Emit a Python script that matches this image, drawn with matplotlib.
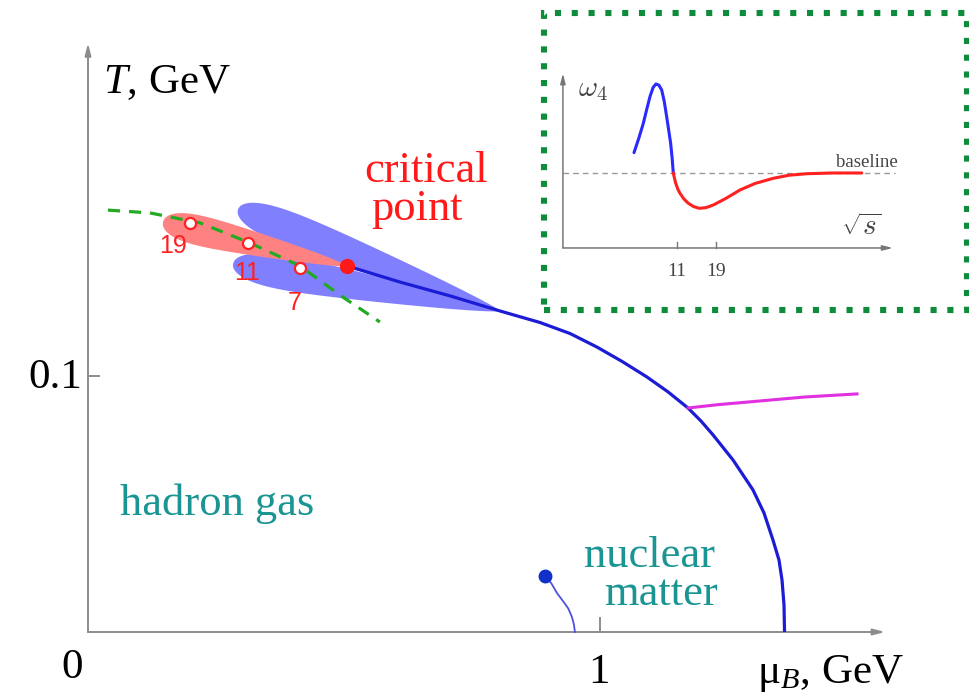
import numpy as np
import matplotlib.pyplot as plt
from matplotlib.patches import Polygon, Rectangle

plt.rcParams['font.family'] = ['Liberation Serif', 'DejaVu Serif']
plt.rcParams['mathtext.fontset'] = 'custom'
plt.rcParams['mathtext.rm'] = 'Liberation Serif'
plt.rcParams['mathtext.it'] = 'Liberation Serif:italic'

# --- phase diagram (mu_B in GeV, T in GeV) ---
crit_point = (0.506, 0.143)
transition_mu = [0.5059, 0.6094, 0.7070, 0.8047, 0.8828, 0.9414, 0.9941, 1.0430, 1.0918,
                 1.1328, 1.1719, 1.1973, 1.2207, 1.2598, 1.2988, 1.3203, 1.3379, 1.3496,
                 1.3555, 1.3594, 1.3604]
transition_T = [0.1430, 0.1367, 0.1313, 0.1254, 0.1209, 0.1166, 0.1113, 0.1057, 0.0996,
                0.0938, 0.0875, 0.0824, 0.0770, 0.0672, 0.0555, 0.0465, 0.0359, 0.0281,
                0.0203, 0.0105, 0.0]

nuclear_mu = [0.893, 0.905, 0.916, 0.928, 0.938, 0.945, 0.949, 0.951]
nuclear_T = [0.0219, 0.0190, 0.0152, 0.0120, 0.0092, 0.0060, 0.0030, 0.0]

magenta_mu = [1.172, 1.230, 1.287, 1.400, 1.502]
magenta_T = [0.0875, 0.0888, 0.0898, 0.0918, 0.0930]

freeze_mu = [0.039, 0.121, 0.219, 0.316, 0.414, 0.492, 0.570]
freeze_T = [0.1648, 0.1637, 0.1598, 0.1520, 0.1430, 0.1316, 0.1211]

energy_labels = ['19', '11', '7']
energy_mu = [0.199, 0.3125, 0.414]
energy_T = [0.1598, 0.1520, 0.1422]

# lobes: common tip of the blue ones and the rounded ends
lobe_tip = (0.8047, 0.1254)
blue_upper_end = (0.293, 0.1652)
blue_lower_end = (0.2832, 0.1438)
red_end = (0.1465, 0.1602)

# --- inset: omega_4 vs sqrt(s) ---
w4_blue_x = [2.18, 3.2, 4.09, 4.8, 5.46, 6.1, 6.69, 7.3, 7.86, 8.4, 8.88, 9.3, 9.70, 10.0, 10.24]
w4_blue_y = [1.271, 1.47, 1.662, 1.85, 2.018, 2.14, 2.187, 2.17, 2.107, 1.95, 1.751, 1.57,
             1.396, 1.2, 1.0]
w4_red_x = [10.24, 10.7, 11.2, 11.62, 12.4, 13.32, 14.4, 15.57, 16.9, 18.45, 21.0, 23.92,
            27.0, 30.75, 34.0, 37.6, 43.0, 48.9]
w4_red_y = [1.0, 0.87, 0.78, 0.729, 0.655, 0.596, 0.552, 0.529, 0.537, 0.573, 0.66, 0.773,
            0.86, 0.929, 0.97, 0.99, 1.0, 1.0]
inset_ticks = [11, 19]

SX, SY = 512.0, 2560.0  # px per GeV on each axis


def lobe(tip, end, half_width, p=8, a=0.7):
    t = np.array([tip[0] * SX, tip[1] * SY])
    e = np.array([end[0] * SX, end[1] * SY])
    L = np.hypot(*(e - t))
    u = (e - t) / L
    n = np.array([-u[1], u[0]])
    s = np.linspace(0, 1, 400)
    h = s ** a * np.sqrt(1 - s ** p)
    h = h / h.max() * half_width
    up = t + np.outer(s * L, u) + np.outer(h, n)
    lo = t + np.outer(s * L, u) - np.outer(h, n)
    pts = np.vstack([up, lo[::-1]])
    return pts / np.array([SX, SY])


fig = plt.figure(figsize=(9.7, 6.95), dpi=100)
ax = fig.add_axes([0, 0, 1, 1])
ax.set_xlim(-88 / SX, 882 / SX)
ax.set_ylim(-63 / SY, 632 / SY)
ax.axis('off')

axis_col = '#8c8c8c'
arrow = dict(arrowstyle='-|>,head_length=0.7,head_width=0.18', color=axis_col, lw=1.4, shrinkA=0, shrinkB=0)
ax.annotate('', xy=(1.557, 0), xytext=(0, 0), arrowprops=arrow)
ax.annotate('', xy=(0, 0.230), xytext=(0, 0), arrowprops=arrow)
ax.plot([0, 0.0215], [0.1, 0.1], color=axis_col, lw=1.4)
ax.plot([1.0, 1.0], [0, 0.0055], color=axis_col, lw=1.4)

blue_fill = '#8080ff'
ax.add_patch(Polygon(lobe(lobe_tip, blue_upper_end, 17), closed=True, fc=blue_fill, ec='none', zorder=2))
ax.add_patch(Polygon(lobe(lobe_tip, blue_lower_end, 17), closed=True, fc=blue_fill, ec='none', zorder=2))
ax.add_patch(Polygon(lobe(crit_point, red_end, 15), closed=True, fc='#ff8282', ec='none', zorder=3))

ax.plot(transition_mu, transition_T, color='#1c1cd6', lw=2.3, zorder=4, solid_capstyle='butt')
ax.plot(nuclear_mu, nuclear_T, color='#5050e0', lw=1.3, zorder=4)
ax.plot(nuclear_mu[0], nuclear_T[0], 'o', color='#1030c8', ms=9, zorder=5)
ax.plot(magenta_mu, magenta_T, color='#e030e0', lw=2.2, zorder=4)

ax.plot(freeze_mu, freeze_T, color='#22aa22', lw=2.3, dashes=(3.8, 2.8), zorder=5)
ax.plot(energy_mu, energy_T, 'o', mfc='white', mec='#ff2020', mew=1.6, ms=8, zorder=6)
ax.plot(*crit_point, 'o', color='#ff1a1a', ms=10, zorder=7)

label_off = [(-0.033, -0.0118), (-0.002, -0.0145), (-0.0097, -0.0164)]
for lab, m, t, (dx, dy) in zip(energy_labels, energy_mu, energy_T, label_off):
    ax.text(m + dx, t + dy, lab, color='#ff2020', fontsize=18, family='Liberation Sans',
            ha='center', va='baseline', zorder=7)

big = 31
ax.text(0.029, 0.2105, r'$T$, GeV', fontsize=big, ha='left', va='baseline')
ax.text(-0.0117, 0.0953, '0.1', fontsize=big, ha='right', va='baseline')
ax.text(-0.03125, -0.0180, '0', fontsize=big, ha='center', va='baseline')
ax.text(0.998, -0.0199, '1', fontsize=big, ha='center', va='baseline')
ax.text(1.3066, -0.0199, r'$\mathrm{μ}_{B}$, GeV', fontsize=big, ha='left', va='baseline')

teal = '#1a9593'
ax.text(0.0625, 0.0457, 'hadron gas', color=teal, fontsize=32, ha='left', va='baseline')
ax.text(1.2246, 0.0254, 'nuclear', color=teal, fontsize=32, ha='right', va='baseline')
ax.text(1.2305, 0.01055, 'matter', color=teal, fontsize=32, ha='right', va='baseline')
ax.text(0.660, 0.1758, 'critical', color='#ff1a1a', fontsize=32, ha='center', va='baseline')
ax.text(0.6426, 0.1609, 'point', color='#ff1a1a', fontsize=32, ha='center', va='baseline')

# inset
axi = fig.add_axes([544 / 970, (695 - 310) / 695, 423 / 970, 297 / 695])
axi.set_xlim(-16.28, 70.49)
axi.set_ylim(-0.827, 3.133)
axi.axis('off')
axi.add_patch(Rectangle((0, 0), 1, 1, transform=axi.transAxes, fill=False, ec='#0e8c3c',
                        lw=4.4, linestyle=(0, (1, 1.75)), clip_on=False))

in_col = '#777777'
in_arrow = dict(arrowstyle='-|>,head_length=0.6,head_width=0.15', color=in_col, lw=1.1, shrinkA=0, shrinkB=0)
axi.annotate('', xy=(55.3, 0), xytext=(-12.4, 0), arrowprops=in_arrow)
axi.annotate('', xy=(-12.4, 2.33), xytext=(-12.4, 0), arrowprops=in_arrow)
for tk in inset_ticks:
    axi.plot([tk, tk], [0, 0.08], color=in_col, lw=1.0)
    axi.text(tk, -0.37, str(tk), fontsize=14, color='#444444', ha='center', va='baseline')

axi.axhline(1.0, xmin=(-12.4 + 16.28) / 86.77, xmax=(55.7 + 16.28) / 86.77,
            color='#999999', lw=1.0, dashes=(4, 3))
axi.text(56.3, 1.08, 'baseline', fontsize=13.5, color='#444444', ha='right', va='baseline')
axi.plot(w4_blue_x, w4_blue_y, color='#2a2aff', lw=2.2, solid_capstyle='round')
axi.plot(w4_red_x, w4_red_y, color='#ff2020', lw=2.2, solid_capstyle='round')
axi.text(-6.3, 2.107, r'$\omega_4$', fontsize=21, color='#444444', ha='center', va='center',
         math_fontfamily='cm')
axi.text(48.9, 0.267, r'$\sqrt{s}$', fontsize=21, color='#444444', ha='center', va='center',
         math_fontfamily='cm')

fig.savefig('out.png', dpi=100)
